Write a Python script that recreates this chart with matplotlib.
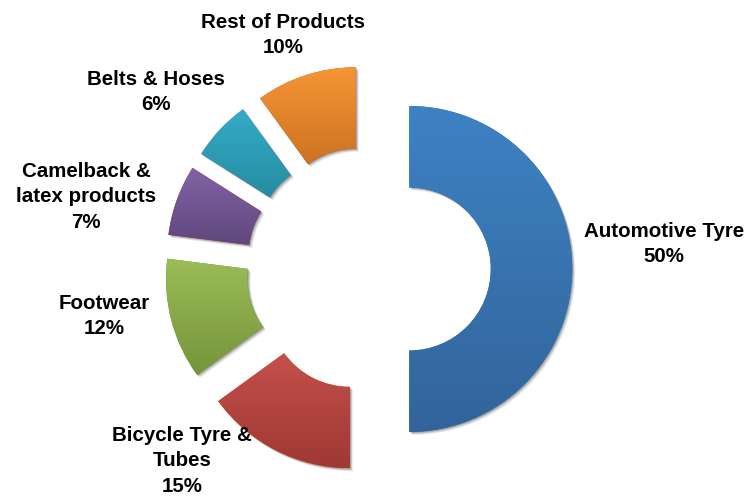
import numpy as np
import matplotlib.pyplot as plt
from matplotlib.patches import Wedge

# data
labels = ["Automotive Tyre", "Bicycle Tyre &\nTubes", "Footwear",
          "Camelback &\nlatex products", "Belts & Hoses", "Rest of Products"]
shares = [50, 15, 12, 7, 6, 10]

# gradient colours, top -> bottom of each slice
top_colors = [(62, 130, 196), (196, 80, 76), (156, 188, 88),
              (129, 99, 166), (52, 172, 200), (246, 150, 52)]
bottom_colors = [(50, 100, 154), (160, 56, 51), (118, 148, 58),
                 (95, 72, 125), (38, 140, 160), (204, 114, 36)]

# label centres in pixels (from top-left)
label_px = [(664, 244), (182, 461), (104, 316), (86, 197), (156, 92), (283, 35)]

W, H = 749, 496
scale = 163.0  # pixels per unit radius
cx, cy = 368.5, H - 269

fig = plt.figure(figsize=(W / 100, H / 100), dpi=100)
ax = fig.add_axes([0, 0, 1, 1])

wedges, _ = ax.pie(shares, startangle=90, counterclock=False,
                   explode=[0.25] * len(shares), radius=1,
                   wedgeprops=dict(width=0.5, linewidth=0))

for i, w in enumerate(wedges):
    # soft shadow
    for k, a in [(1, 0.18), (2, 0.14), (3, 0.08)]:
        d = k / scale
        sh = Wedge((w.center[0] + d, w.center[1] - d), w.r, w.theta1, w.theta2,
                   width=w.width, facecolor="black", alpha=a, linewidth=0, zorder=0.5)
        ax.add_patch(sh)
    w.set_zorder(1)
    ext = w.get_path().get_extents()
    t = np.array(top_colors[i]) / 255
    b = np.array(bottom_colors[i]) / 255
    f = np.linspace(0, 1, 200)[:, None, None]
    grad = t * (1 - f) + b * f
    im = ax.imshow(grad, extent=(ext.x0, ext.x1, ext.y0, ext.y1),
                   origin="upper", aspect="auto", zorder=2, interpolation="bilinear")
    im.set_clip_path(w)

ax.set_xlim(-cx / scale, (W - cx) / scale)
ax.set_ylim(-cy / scale, (H - cy) / scale)
ax.set_aspect("auto")
ax.axis("off")

for lab, v, (x, y) in zip(labels, shares, label_px):
    fig.text(x / W, 1 - y / H, f"{lab}\n{v}%", ha="center", va="center",
             multialignment="center", fontsize=14.8, fontweight="bold",
             family="Liberation Sans", linespacing=1.42, color="black")

fig.savefig("out.png", dpi=100)
